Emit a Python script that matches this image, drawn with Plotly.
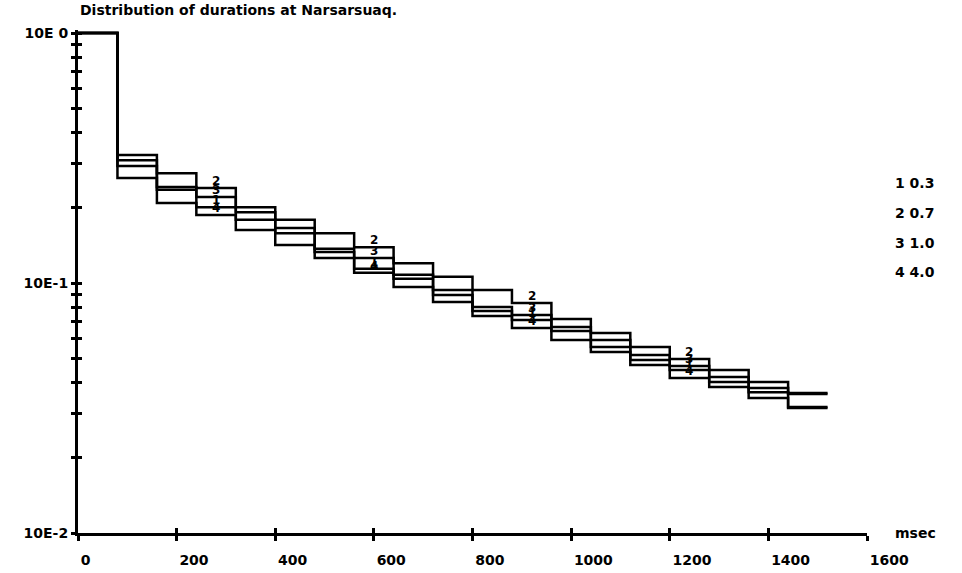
import math
import plotly.graph_objects as go

# ---- data ----
bin_start = [0, 80, 160, 240, 320, 400, 480, 560, 640, 720, 800, 880, 960,
             1040, 1120, 1200, 1280, 1360, 1440]
bin_width = 80

curve_ids = ["1", "2", "3", "4"]
curve_params = ["0.3", "0.7", "1.0", "4.0"]

c1 = [1.0, 0.294, 0.236, 0.201, 0.179, 0.158, 0.133, 0.114, 0.104, 0.0895,
      0.0773, 0.0711, 0.0643, 0.0555, 0.0492, 0.0449, 0.0402, 0.0366, 0.0319]
c2 = [1.0, 0.325, 0.275, 0.240, 0.201, 0.179, 0.158, 0.139, 0.120, 0.106,
      0.0938, 0.0832, 0.0718, 0.0631, 0.0555, 0.0497, 0.0449, 0.0402, 0.0363]
c3 = [1.0, 0.310, 0.242, 0.221, 0.192, 0.166, 0.137, 0.126, 0.108, 0.0938,
      0.0802, 0.0745, 0.0667, 0.0592, 0.0515, 0.0466, 0.0421, 0.0380, 0.0360]
c4 = [1.0, 0.263, 0.209, 0.187, 0.163, 0.142, 0.126, 0.110, 0.0964, 0.0840,
      0.0738, 0.0661, 0.0592, 0.0530, 0.0470, 0.0417, 0.0384, 0.0347, 0.0316]
curves = [c1, c2, c3, c4]

label_bins = [3, 7, 11, 15]          # bins where curve numbers are written

x_ticks = [0, 200, 400, 600, 800, 1000, 1200, 1400, 1600]
y_decades = [0.01, 0.1, 1.0]
y_decade_text = ["10E-2", "10E-1", "10E 0"]

title_text = "Distribution of durations at Narsarsuaq."
x_unit = "msec"

# ---- build figure ----
FONT = "DejaVu Sans"
fig = go.Figure()

edges = bin_start + [bin_start[-1] + bin_width]
for vals in curves:
    fig.add_trace(go.Scatter(
        x=edges, y=vals + [vals[-1]], mode="lines", line_shape="hv",
        line=dict(color="black", width=2.5), showlegend=False, hoverinfo="skip"))

# dummy trace for the overlay axes (crossing tick marks)
fig.add_trace(go.Scatter(x=[None], y=[None], xaxis="x2", yaxis="y2",
                         showlegend=False, hoverinfo="skip"))

y_tickvals, y_ticktext = [], []
for d, t in zip(y_decades[:-1], y_decade_text[:-1]):
    for m in range(1, 10):
        y_tickvals.append(d * m)
        y_ticktext.append(t if m == 1 else "")
y_tickvals.append(y_decades[-1])
y_ticktext.append(y_decade_text[-1])

tickfont = dict(family=FONT, size=14, color="black", weight="bold")

fig.update_layout(
    width=962, height=573,
    margin=dict(l=78, r=95, t=30, b=40, autoexpand=False),
    paper_bgcolor="white", plot_bgcolor="white",
    xaxis=dict(range=[0, 1600], tickvals=x_ticks, ticktext=[str(v) for v in x_ticks],
               ticks="outside", ticklen=5, tickwidth=2.5, tickcolor="black",
               showline=True, linewidth=3, linecolor="black", showgrid=False,
               zeroline=False, tickfont=tickfont, automargin=False,
               ticklabelposition="outside right", ticklabelstandoff=12),
    yaxis=dict(type="log", range=[-2, 0.012], tickvals=y_tickvals, ticktext=y_ticktext,
               ticks="outside", ticklen=4, tickwidth=2.5, tickcolor="black",
               showline=True, linewidth=3, linecolor="black", showgrid=False,
               zeroline=False, tickfont=tickfont, automargin=False),
    xaxis2=dict(overlaying="x", anchor="y2", range=[0, 1600], tickvals=x_ticks,
                ticks="inside", ticklen=5, tickwidth=2.5, tickcolor="black",
                showticklabels=False, showline=False, showgrid=False, zeroline=False,
                automargin=False),
    yaxis2=dict(overlaying="y", anchor="x2", type="log", range=[-2, 0.012],
                tickvals=y_tickvals, ticks="inside", ticklen=4, tickwidth=2.5,
                tickcolor="black", showticklabels=False, showline=False,
                showgrid=False, zeroline=False, automargin=False),
)

annfont = dict(family=FONT, size=14, color="black", weight="bold")

fig.add_annotation(text=title_text, xref="paper", yref="paper", x=0, y=(533 - 10) / 503,
                   xanchor="left", yanchor="middle", showarrow=False, font=annfont)
fig.add_annotation(text=x_unit, xref="paper", yref="paper", x=(893 - 78) / 789, y=0,
                   xanchor="left", yanchor="middle", showarrow=False, font=annfont)
key_y = [183, 213, 243, 272]
for cid, par, py in zip(curve_ids, curve_params, key_y):
    fig.add_annotation(text=f"{cid} {par}", xref="paper", yref="paper",
                       x=(893 - 78) / 789, y=(533 - py) / 503,
                       xanchor="left", yanchor="middle", showarrow=False, font=annfont)
for cid, vals in zip(curve_ids, curves):
    for b in label_bins:
        fig.add_annotation(text=cid, x=bin_start[b] + bin_width / 2, y=math.log10(vals[b]),
                           xanchor="center", yanchor="bottom", showarrow=False,
                           font=dict(family=FONT, size=12, color="black", weight="bold"),
                           yshift=-1, borderpad=0)

fig.write_html("out.html", config={"displayModeBar": False},
               post_script="document.body.style.margin='0';document.body.style.overflow='hidden';")
